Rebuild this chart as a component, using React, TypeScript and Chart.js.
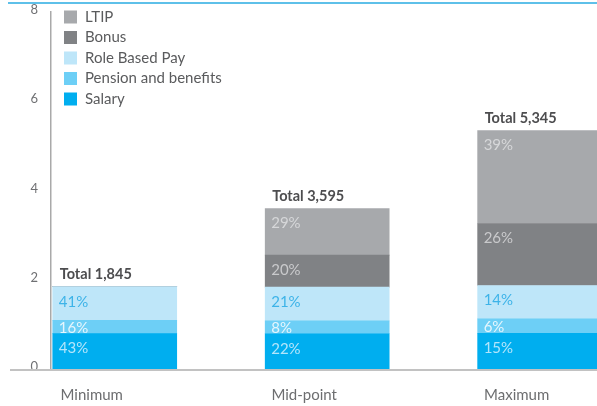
import React, { useEffect, useRef } from "react";
import { Chart, registerables } from "chart.js";

Chart.register(...registerables);

const categories = ["Minimum", "Mid-point", "Maximum"];
const totals = [1.845, 3.595, 5.345]; // £000s
const salaryPct = [43, 22, 15];
const pensionPct = [16, 8, 6];
const rolePct = [41, 21, 14];
const bonusPct = [0, 20, 26];
const ltipPct = [0, 29, 39];
const yTicks = [0, 2, 4, 6, 8];

const seriesNames = ["Salary", "Pension and benefits", "Role Based Pay", "Bonus", "LTIP"];
const seriesPct = [salaryPct, pensionPct, rolePct, bonusPct, ltipPct];
const seriesColors = ["#00aeef", "#6dcff6", "#bee6f9", "#808285", "#a7a9ac"];
const pctTextColors = ["#b3e5fb", "#e6f6fd", "#3db3e8", "#c9cacc", "#d6d7d9"];

const FONT = "Lato, 'Open Sans', sans-serif";

const overlayPlugin = {
  id: "overlay",
  beforeDatasetsDraw(chart: any) {
    const ctx = chart.ctx;
    const y0 = chart.scales.y.getPixelForValue(0);
    ctx.save();
    ctx.strokeStyle = "#c2c2c2";
    ctx.lineWidth = 2;
    ctx.beginPath();
    ctx.moveTo(10, y0 + 1);
    ctx.lineTo(chart.width, y0 + 1);
    ctx.stroke();
    // top blue rule
    ctx.strokeStyle = "#29abe2";
    ctx.lineWidth = 1.5;
    ctx.beginPath();
    ctx.moveTo(8, 3);
    ctx.lineTo(chart.width, 3);
    ctx.stroke();
    ctx.restore();
  },
  afterDatasetsDraw(chart: any) {
    const ctx = chart.ctx;
    ctx.save();
    ctx.textBaseline = "middle";
    ctx.textAlign = "left";
    // percentage labels
    ctx.font = `15px ${FONT}`;
    chart.data.datasets.forEach((ds: any, di: number) => {
      const meta = chart.getDatasetMeta(di);
      meta.data.forEach((bar: any, i: number) => {
        const pct = seriesPct[di][i];
        if (!pct) return;
        const { x, y, base, width } = bar.getProps(["x", "y", "base", "width"], true);
        const h = base - y;
        ctx.fillStyle = pctTextColors[di];
        ctx.fillText(`${pct}%`, x - width / 2 + 6, y + Math.min(15, h / 2 + 1));
      });
    });
    // totals
    ctx.font = `bold 14.5px ${FONT}`;
    ctx.fillStyle = "#4d4d4f";
    const meta0 = chart.getDatasetMeta(0);
    totals.forEach((t, i) => {
      const bar = meta0.data[i];
      const { x, width } = bar.getProps(["x", "width"], true);
      const top = chart.scales.y.getPixelForValue(t);
      const label = `Total ${Math.round(t * 1000).toLocaleString("en-US")}`;
      ctx.fillText(label, x - width / 2 + 7, top - 12);
    });
    // legend (reverse order)
    ctx.font = `15px ${FONT}`;
    const n = seriesNames.length;
    for (let k = 0; k < n; k++) {
      const di = n - 1 - k;
      const cy = 17 + k * 20.5;
      ctx.fillStyle = seriesColors[di];
      ctx.fillRect(64, cy - 6.5, 13, 13);
      ctx.fillStyle = "#5a5b5d";
      ctx.fillText(chart.data.datasets[di].label, 85, cy);
    }
    ctx.restore();
  },
};

export default function App() {
  const canvasRef = useRef<HTMLCanvasElement | null>(null);

  useEffect(() => {
    document.body.style.margin = "0";
    const canvas = canvasRef.current;
    if (!canvas) return;
    const datasets = seriesNames.map((name, di) => ({
      label: name,
      data: categories.map((_, i) => ({ x: i, y: (totals[i] * seriesPct[di][i]) / 100 })),
      backgroundColor: seriesColors[di],
      borderWidth: 0,
      barThickness: 124,
    }));
    const chart = new Chart(canvas, {
      type: "bar",
      data: { datasets },
      options: {
        responsive: false,
        animation: false,
        devicePixelRatio: 1,
        layout: { padding: { left: 0, right: 6, top: 12, bottom: 0 } },
        plugins: { legend: { display: false }, tooltip: { enabled: false } },
        scales: {
          x: {
            type: "linear",
            min: -0.3,
            max: 2.35,
            offset: false,
            stacked: true,
            grid: { display: false, drawTicks: false, offset: false },
            border: { display: false },
            afterBuildTicks: (s: any) => {
              s.ticks = categories.map((_, i) => ({ value: i }));
            },
            afterFit: (s: any) => {
              s.height = 37;
            },
            ticks: {
              callback: (v: any) => categories[v] ?? "",
              padding: 17,
              labelOffset: -23,
              color: "#6d6e70",
              font: { family: FONT, size: 15 },
            },
          },
          y: {
            min: 0,
            max: 8,
            stacked: true,
            afterBuildTicks: (s: any) => {
              s.ticks = yTicks.map((v) => ({ value: v }));
            },
            afterFit: (s: any) => {
              s.width = 51;
              s.paddingTop = 0;
              s.paddingBottom = 0;
            },
            grid: { display: false, drawTicks: false },
            border: { display: true, color: "#a9a9a9", width: 1.5 },
            ticks: {
              padding: 13,
              labelOffset: -2,
              color: "#6f7073",
              font: { family: FONT, size: 13 },
            },
          },
        },
      },
      plugins: [overlayPlugin],
    } as any);
    return () => chart.destroy();
  }, []);

  return (
    <div style={{ width: 597, height: 406, overflow: "hidden", position: "relative" }}>
      <canvas ref={canvasRef} width={620} height={406} style={{ display: "block" }} />
    </div>
  );
}
